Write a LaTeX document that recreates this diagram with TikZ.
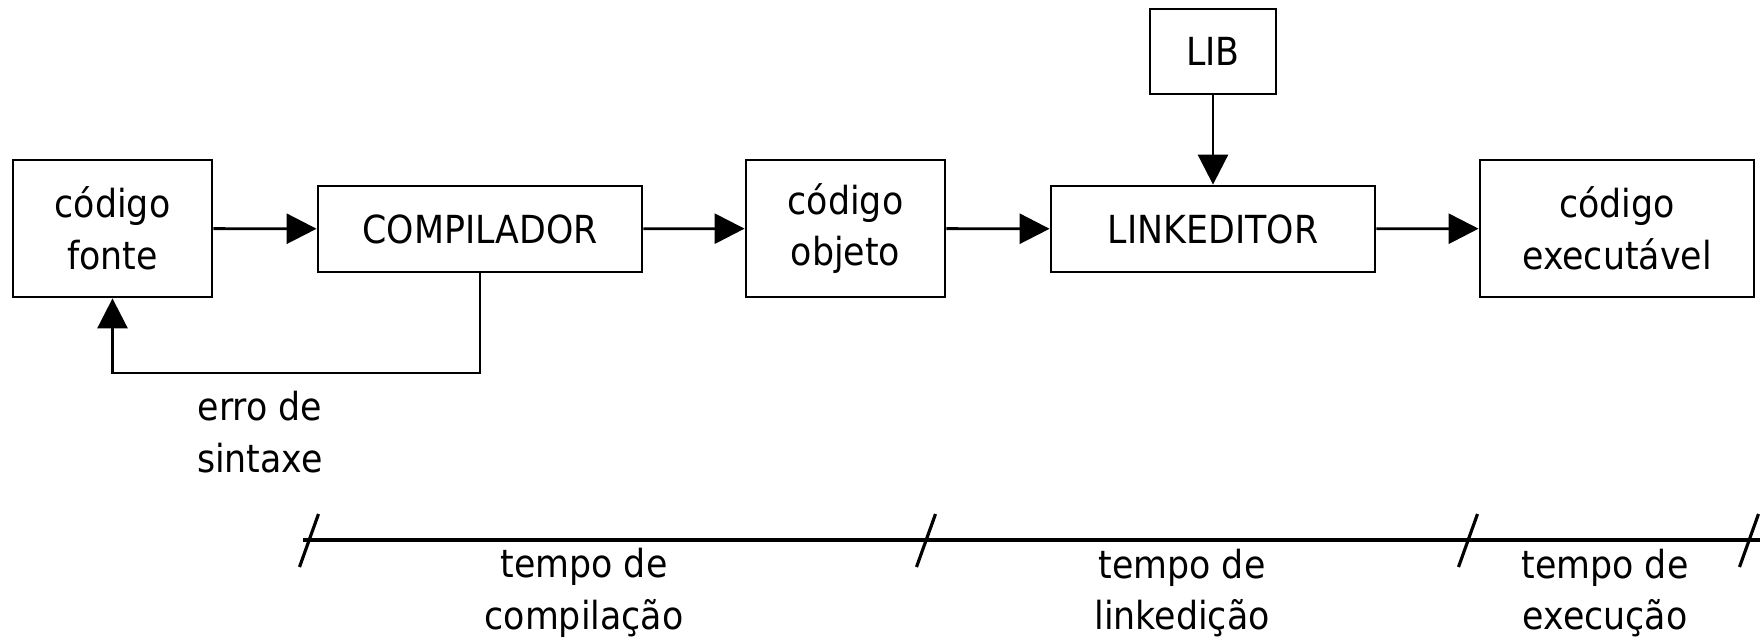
\documentclass[tikz,border=0pt]{standalone}
\usepackage{fontspec}
\setmainfont{DejaVu Sans}[FakeStretch=0.9]
\usepackage{tikz}
\usetikzlibrary{arrows.meta,positioning}
\tikzset{
  cp diagram/.style={font=\fontsize{11}{14.7}\selectfont, line join=miter},
  cp box/.style={draw=black, fill=white, line width=0.8pt, align=center,
    inner sep=0pt, minimum height=1.37cm},
  cp square/.style={cp box, minimum width=1.99cm},
  cp stage/.style={cp box, minimum width=3.24cm, minimum height=0.86cm},
  cp arrow/.style={-{Triangle[length=3mm,width=3mm]}, line width=0.8pt},
  cp axis/.style={line width=0.9pt},
  cp label/.style={align=center}
}
\begin{document}
\begin{tikzpicture}[cp diagram]
\useasboundingbox (0,0) rectangle (17.6,6.4);
\node[cp square] (fonte) at (1.125,4.115) {código\\fonte};
\node[cp stage] (compilador) at (4.80,4.11) {COMPILADOR};
\node[cp square] (objeto) at (8.455,4.115) {código\\objeto};
\node[cp stage] (linkeditor) at (12.13,4.11) {LINKEDITOR};
\node[cp square, minimum width=2.74cm] (executavel) at (16.17,4.115) {código\\executável};
\node[cp box, minimum width=1.26cm, minimum height=0.85cm] (lib) at (12.13,5.885) {LIB};
\draw[cp arrow] (fonte) -- (compilador);
\draw[cp arrow] (compilador) -- (objeto);
\draw[cp arrow] (objeto) -- (linkeditor);
\draw[cp arrow] (linkeditor) -- (executavel);
\draw[cp arrow] (lib) -- (linkeditor);
\coordinate (retorno) at (1.125,2.67);
\draw[cp arrow] (compilador.south) |- (retorno) -- (fonte.south);
\node[cp label] (erro) at (2.60,2.08) {erro de\\sintaxe};
\coordinate (t0) at (3.03,1.0);
\coordinate (t1) at (17.6,1.0);
\draw[cp axis] (t0) -- (t1);
\foreach \x in {3.09,9.26,14.68,17.49}
  \draw[cp axis] (\x-0.095,0.73) -- (\x+0.095,1.26);
\node[cp label] (tcomp) at (5.84,0.47) {tempo de\\compilação};
\node[cp label] (tlink) at (11.82,0.47) {tempo de\\linkedição};
\node[cp label] (texec) at (16.05,0.47) {tempo de\\execução};
\end{tikzpicture}
\end{document}
